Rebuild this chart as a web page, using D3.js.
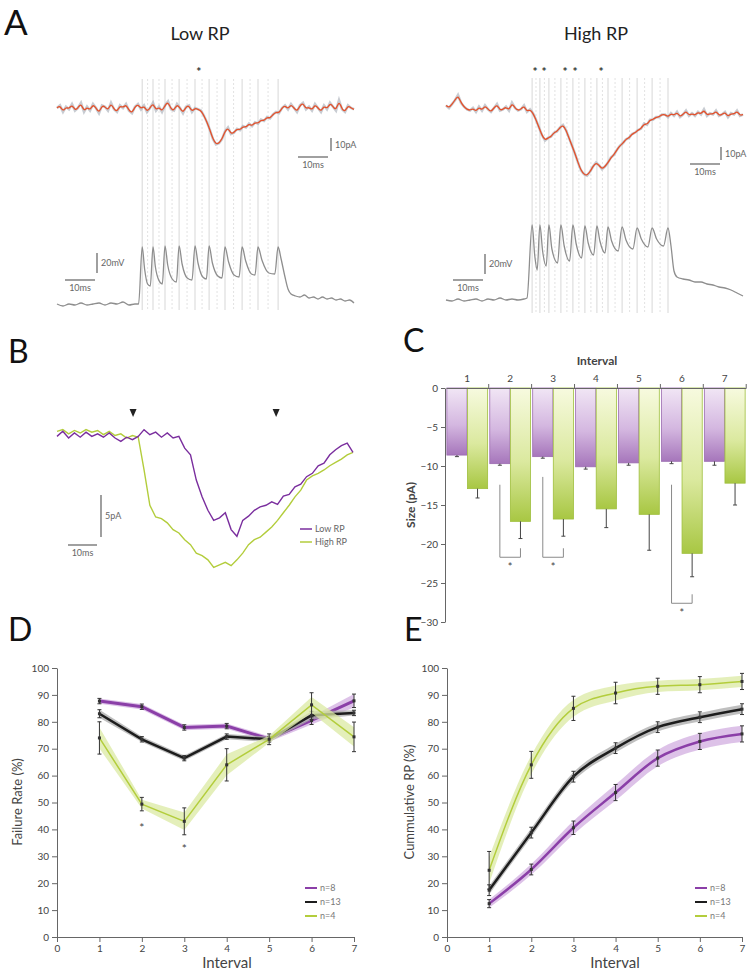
<!DOCTYPE html>
<html>
<head>
<meta charset="utf-8">
<script src="https://cdn.jsdelivr.net/npm/d3@7"></script>
<style>
  body { margin: 0; background: #fff; }
  svg { display: block; font-family: Lato, 'Open Sans', sans-serif; }
</style>
</head>
<body>
<svg id="fig" width="747" height="973"></svg>
<script>
// ---------- data ----------
// A: membrane current (pA), one sample per ms
var lowCurrent = [0,2,-3,1,-1,3,-2,0,4,-3, 1,-2,3,0,-4,2,1,-2,4,-1, -3,2,0,3,-2,-4,1,3,-1,2,
  -3,0,4,-2,1,-3,2,5,-1,-2, 3,0,-4,1,2,-3,0,-1,
  -2,-6,-11,-17,-24,-28,-27,-24,-18,-15,-20,-19,-16,-17,-14,-15,-12,-14,-11,-12,-9,-10,-7,-8,-5,-3,-4,0,
  2,-1,3,0,-3,2,4,-1,1,-2, 3,0,-3,2,-1,4,1,-2,6,-1, -3,2,0,-1]
var highCurrent = [2,0,3,6,10,4,1,-1,-2,0, -3,1,-2,2,-1,-3,0,3,-2,-1, 1,-2,4,0,-2,-1,2,-3,-1,
  -4,-9,-15,-21,-25,-23,-22,-19,-18,-15, -13,-17,-23,-29,-35,-42,-48,-51,-52,-49,
  -45,-42,-44,-47,-45,-42,-38,-36,-32,-29, -27,-24,-23,-20,-19,-17,-16,-12,-13,-9, -9,-7,-7,-5,
  -5,-7,-4,-6,-3,-7,-5,-2,-6,-4, -6,-3,-5,-1,-6,-4,-5,-2,-6,-5, -3,-7,-4,-5,-2,-6,-5]
// A: membrane potential, [ms, mV above rest]
var lowVm = [[0,1],[2,-1],[4,1],[6,0],[8,2],[10,0],[12,1],[14,2],[16,0],[18,2],[20,1],[22,3],[24,0],[26,1],[27.2,1],
  [28.4,58],[29.2,36],[30.2,21],[31.1,19],
  [32,58],[32.8,38],[33.9,25],[35.1,21],
  [36,59],[36.9,40],[38.4,26],[39.8,23],
  [40.7,59],[41.7,41],[43.4,27],[45,25],
  [46,59],[47,42],[48.6,28],[49.8,26],
  [50.7,59],[51.8,42],[53.6,29],[55,27],
  [56,58],[57.2,43],[59,30],[60.7,28],
  [61.7,58],[62.9,44],[64.8,31],[66,30],
  [67,58],[68.3,45],[70.6,32],[72.6,31],
  [73.7,58],[74.7,46],[76,28],[77,16],[78,11],[79.5,9],[81,8],[82.5,10],[84,7],[85.5,8],[87,6],
  [88.5,8],[90,6],[91.5,7],[93,5],[94.5,6],[96,4],[97.5,5],[99,2]]
var highVm = [[0,1],[2,0],[4,2],[6,0],[8,1],[10,2],[12,0],[14,2],[16,1],[18,3],[20,1],[22,2],[24,1],[26,2],[27,3],
  [28.7,76],[29.6,45],[30.4,31],
  [31.3,76],[32.2,50],[33.4,35],
  [34.3,76],[35.3,52],[37.2,38],
  [38.3,76],[39.4,55],[41.2,40],
  [42.3,76],[43.4,57],[45.2,43],
  [46.3,75],[47.4,58],[49.2,46],
  [50.3,75],[51.3,60],[53,48],
  [54,74],[55.2,60],[57.4,50],
  [58.7,74],[60,61],[62.3,52],
  [63.7,73],[65.1,62],[67.3,54],
  [68.7,73],[70.2,62],[72.5,55],
  [74,73],[75,55],[76,30],[77,24],[79,22],[81,21],[83,19],[85,19],[87,17],[89,16],[91,14],[93,13],[95,11],[97,8],[99,5]]
var lowSpikes = [28.4, 32, 36, 40.7, 46, 50.7, 56, 61.7, 67, 73.7]
var highSpikes = [28.7, 31.3, 34.3, 38.3, 42.3, 46.3, 50.3, 54, 58.7, 63.7, 68.7, 74]
var lowStars = [47.3]
var highStars = [29.7, 32.7, 39.7, 43, 51.7]

// B: averaged currents (pA), one sample every 2 ms
var avgLow = [-0.4,0.2,-0.6,0,-0.5,0.1,-0.4,-0.1,-0.5,0,-0.6,-1.0,-0.5,-0.8,-0.4,0.4,-0.2,0.1,-0.5,0,
  -0.6,-0.4,-1.8,-2.6,-5.6,-7.6,-9.2,-10.4,-10.1,-9.5,-11.5,-12.3,-10.4,-9.9,-9.2,-8.8,-8.6,-8.2,-8.5,-7.5,
  -7.3,-6.4,-6.1,-5.2,-4.8,-3.9,-3.6,-2.6,-2.0,-1.5,-1.2,-2.3]
var avgHigh = [0.2,0.4,-0.1,0.3,0,0.4,0.1,0.3,-0.2,0.2,-0.3,-0.1,-0.6,-0.3,-0.5,-4.4,-8.6,-10,-10.2,-10.7,
  -11.5,-11.9,-12.7,-13.3,-14.3,-14.6,-15.1,-16.0,-15.7,-15.4,-15.8,-15.1,-14.3,-13.3,-12.7,-12.4,-11.8,-11.2,-10.4,-9.5,
  -8.6,-7.6,-6.8,-5.6,-5.1,-4.8,-4.4,-3.9,-3.5,-3.1,-2.6,-2.3]
var avgStep = 2
var arrowTimes = [26.2, 75.5]

// C: EPSC size per interval (pA)
var intervals = [1, 2, 3, 4, 5, 6, 7]
var sizeLow = [-8.6, -9.7, -8.8, -10.1, -9.6, -9.4, -9.4]
var sizeLowErr = [0.2, 0.2, 0.2, 0.3, 0.3, 0.3, 0.5]
var sizeHigh = [-12.9, -17.1, -16.8, -15.5, -16.2, -21.2, -12.2]
var sizeHighErr = [1.2, 2.2, 2.2, 2.4, 4.6, 3.0, 2.8]
var sizeTicks = [0, -5, -10, -15, -20, -25, -30]
var sigGroups = [2, 3, 6]
var sigTop = [-12.4, -11.4, -12.4]
var sigBottom = [-21.7, -21.7, -27.6]

// D: failure rate (%)
var frLow = [87.7, 85.6, 77.9, 78.4, 73.6, 80.5, 87.8]
var frLowErr = [1, 1, 1, 1, 1, 1.5, 2.5]
var frAll = [83, 73.5, 66.5, 74.5, 73.5, 82.4, 83.3]
var frAllErr = [1.5, 1, 1, 1, 1, 1.5, 1]
var frHigh = [74, 49.4, 43, 64, 73.5, 86.3, 74.4]
var frHighErr = [6, 2.5, 5, 6, 2, 4.5, 5.5]
var frStarX = [2, 3]
var frStarY = [41, 33]

// E: cumulative RP (%)
var cumLow = [12.4, 25.1, 40.6, 53.7, 66.5, 72.7, 75.5]
var cumLowErr = [1.5, 2, 2.5, 3, 3, 3, 3]
var cumAll = [17.4, 38.8, 59.6, 70.2, 78, 81.7, 84.7]
var cumAllErr = [2, 2, 2, 2, 2, 2, 2]
var cumHigh = [24.8, 64, 85, 90.7, 93.2, 93.8, 95]
var cumHighErr = [7, 5, 4.5, 4, 3, 3, 3]

var pctTicks = [0, 10, 20, 30, 40, 50, 60, 70, 80, 90, 100]
var intervalTicks = [0, 1, 2, 3, 4, 5, 6, 7]
var legendLabels = ['n=8', 'n=13', 'n=4']

// ---------- styles ----------
var purple = '#8b3fa8', black = '#1d1d1d', green = '#b3cd3c'
var purpleBand = '#d2aee0', blackBand = '#a9a9a9', greenBand = '#dbe9a3'
var grayText = '#666'

var svg = d3.select('#fig')

// panel letters
;[['A', 4, 35, 35], ['B', 8, 363, 32], ['C', 403, 352, 32], ['D', 8, 641, 32], ['E', 404, 641, 32]]
  .forEach(function(l){
    svg.append('text').attr('x', l[1]).attr('y', l[2]).text(l[0])
      .attr('font-size', l[3] + 'px').attr('fill', '#111')
  })

function scaleBarV(x, y, len, label) {
  svg.append('line').attr('x1', x).attr('x2', x).attr('y1', y).attr('y2', y + len)
    .attr('stroke', '#777').attr('stroke-width', 1.4)
  svg.append('text').attr('x', x + 4).attr('y', y + len / 2 + 3).text(label)
    .attr('font-size', '9px').attr('fill', grayText)
}
function scaleBarH(x, y, len, label) {
  svg.append('line').attr('x1', x).attr('x2', x + len).attr('y1', y).attr('y2', y)
    .attr('stroke', '#777').attr('stroke-width', 1.4)
  svg.append('text').attr('x', x + len / 2).attr('y', y + 11).text(label)
    .attr('text-anchor', 'middle').attr('font-size', '9px').attr('fill', grayText)
}

// ---------- panel A ----------
function drawTraces(o) {
  var g = svg.append('g')
  g.append('text').attr('x', o.titleX).attr('y', 40).text(o.title)
    .attr('text-anchor', 'middle').attr('font-size', '18px').attr('fill', '#222')

  o.spikes.forEach(function(t, i){
    g.append('line').attr('x1', o.x(t)).attr('x2', o.x(t)).attr('y1', o.lineTop).attr('y2', o.lineBottom)
      .attr('stroke', '#cdcdcd').attr('stroke-width', 0.8)
    if (i < o.spikes.length - 1) {
      var m = (t + o.spikes[i + 1]) / 2
      g.append('line').attr('x1', o.x(m)).attr('x2', o.x(m)).attr('y1', o.lineTop).attr('y2', o.lineBottom)
        .attr('stroke', '#d6d6d6').attr('stroke-width', 0.7).attr('stroke-dasharray', '2,2')
    }
  })

  var raw = d3.line().x(function(d, i){ return o.x(i) }).y(function(d){ return o.yI(d) })
  var smooth = d3.line().curve(d3.curveBasis).x(function(d, i){ return o.x(i) }).y(function(d){ return o.yI(d) })
  g.append('path').attr('d', raw(o.current)).attr('fill', 'none')
    .attr('stroke', '#9aa2ad').attr('stroke-width', 2.6).attr('stroke-opacity', 0.55)
  g.append('path').attr('d', smooth(o.current)).attr('fill', 'none')
    .attr('stroke', '#e4502a').attr('stroke-width', 1.3)

  var vm = d3.line().curve(d3.curveMonotoneX).x(function(d){ return o.x(d[0]) }).y(function(d){ return o.yV(d[1]) })
  g.append('path').attr('d', vm(o.vm)).attr('fill', 'none')
    .attr('stroke', '#8e8e8e').attr('stroke-width', 1.3)

  o.stars.forEach(function(t){
    g.append('text').attr('x', o.x(t)).attr('y', 76).text('*')
      .attr('text-anchor', 'middle').attr('font-size', '12px').attr('font-weight', 'bold').attr('fill', '#333')
  })
}

var xAL = d3.scaleLinear().domain([0, 100]).range([57, 357])
var xAR = d3.scaleLinear().domain([0, 100]).range([446, 746])
var yIL = d3.scaleLinear().domain([0, -10]).range([108, 121])
var yIR = d3.scaleLinear().domain([0, -10]).range([108, 121])
var yVL = d3.scaleLinear().domain([0, 20]).range([305, 285])
var yVR = d3.scaleLinear().domain([0, 20]).range([301, 281])

drawTraces({ title: 'Low RP', titleX: 200, x: xAL, yI: yIL, yV: yVL, current: lowCurrent, vm: lowVm,
  spikes: lowSpikes, stars: lowStars, lineTop: 79, lineBottom: 310 })
drawTraces({ title: 'High RP', titleX: 596, x: xAR, yI: yIR, yV: yVR, current: highCurrent, vm: highVm,
  spikes: highSpikes, stars: highStars, lineTop: 78, lineBottom: 313 })

scaleBarV(331, 138, yIL(-10) - yIL(0), '10pA')
scaleBarH(298, 157, xAL(10) - xAL(0), '10ms')
scaleBarV(721, 147, yIR(-10) - yIR(0), '10pA')
scaleBarH(690, 164, xAR(10) - xAR(0), '10ms')
scaleBarV(97, 253, yVL(0) - yVL(20), '20mV')
scaleBarH(65, 280, xAL(10) - xAL(0), '10ms')
scaleBarV(485, 254, yVR(0) - yVR(20), '20mV')
scaleBarH(453, 280, xAR(10) - xAR(0), '10ms')

// ---------- panel B ----------
var xB = d3.scaleLinear().domain([0, 102]).range([57, 353])
var yB = d3.scaleLinear().domain([0, -5]).range([433, 475])
var lineB = d3.line().x(function(d, i){ return xB(i * avgStep) }).y(function(d){ return yB(d) })
svg.append('path').attr('d', lineB(avgHigh)).attr('fill', 'none').attr('stroke', green).attr('stroke-width', 1.4)
svg.append('path').attr('d', lineB(avgLow)).attr('fill', 'none').attr('stroke', '#7a2e9e').attr('stroke-width', 1.4)
arrowTimes.forEach(function(t){
  var x = xB(t)
  svg.append('path').attr('d', 'M' + (x - 3.5) + ',409L' + (x + 3.5) + ',409L' + x + ',417Z').attr('fill', '#222')
})
scaleBarV(101, 495, yB(-5) - yB(0), '5pA')
scaleBarH(68, 545, xB(10) - xB(0), '10ms')
;[['Low RP', '#7a2e9e'], ['High RP', green]].forEach(function(d, i){
  var y = 529 + i * 13
  svg.append('line').attr('x1', 300).attr('x2', 312).attr('y1', y).attr('y2', y).attr('stroke', d[1]).attr('stroke-width', 1.5)
  svg.append('text').attr('x', 315).attr('y', y + 3).text(d[0]).attr('font-size', '9px').attr('fill', grayText)
})

// ---------- panel C ----------
var defs = svg.append('defs')
function grad(id, stops) {
  var lg = defs.append('linearGradient').attr('id', id).attr('x1', 0).attr('y1', 0).attr('x2', 0).attr('y2', 1)
  stops.forEach(function(s){ lg.append('stop').attr('offset', s[0]).attr('stop-color', s[1]) })
}
grad('gPurple', [[0, '#f1e6f5'], [0.55, '#d4b7e0'], [1, '#a676bb']])
grad('gGreen', [[0, '#f7fadf'], [0.55, '#dbe99f'], [1, '#a8c743']])

var xC = d3.scaleBand().domain(intervals).range([446, 746]).paddingInner(0.05).paddingOuter(0.02)
var xSub = d3.scaleBand().domain(['low', 'high']).range([0, xC.bandwidth()]).paddingInner(0.02)
var yC = d3.scaleLinear().domain([0, -30]).range([388, 622])
var gC = svg.append('g')

intervals.forEach(function(k, i){
  var x0 = xC(k)
  ;[['low', sizeLow[i], sizeLowErr[i], 'url(#gPurple)', '#9c6cb1'],
    ['high', sizeHigh[i], sizeHighErr[i], 'url(#gGreen)', '#9fbf3d']].forEach(function(b){
    var x = x0 + xSub(b[0]), w = xSub.bandwidth()
    gC.append('rect').attr('x', x).attr('y', yC(0)).attr('width', w).attr('height', yC(b[1]) - yC(0))
      .attr('fill', b[3]).attr('stroke', b[4]).attr('stroke-width', 0.8)
    var cx = x + w / 2
    gC.append('line').attr('x1', cx).attr('x2', cx).attr('y1', yC(b[1])).attr('y2', yC(b[1] - b[2]))
      .attr('stroke', '#444').attr('stroke-width', 1)
    gC.append('line').attr('x1', cx - 2).attr('x2', cx + 2).attr('y1', yC(b[1] - b[2])).attr('y2', yC(b[1] - b[2]))
      .attr('stroke', '#444').attr('stroke-width', 1)
  })
})

gC.append('g').attr('transform', 'translate(445,0)')
  .call(d3.axisLeft(yC).tickValues(sizeTicks).tickSize(4).tickSizeOuter(0))
gC.append('g').attr('transform', 'translate(0,388)')
  .call(d3.axisTop(xC).tickSize(0).tickPadding(6).tickSizeOuter(0))
intervals.forEach(function(k){
  var xb = xC(k) + xC.bandwidth() + xC.step() * xC.paddingInner() / 2
  gC.append('line').attr('x1', xb).attr('x2', xb).attr('y1', 388).attr('y2', 384).attr('stroke', '#666')
})
gC.append('text').attr('x', 597).attr('y', 365).text('Interval').attr('text-anchor', 'middle')
  .attr('font-size', '12px').attr('font-weight', 'bold').attr('fill', '#444')
gC.append('text').attr('transform', 'translate(415,505) rotate(-90)').text('Size (pA)')
  .attr('text-anchor', 'middle').attr('font-size', '12px').attr('font-weight', 'bold').attr('fill', '#444')

sigGroups.forEach(function(k, i){
  var xl = xC(k) + xSub('low') + xSub.bandwidth() / 2
  var xr = xC(k) + xSub('high') + xSub.bandwidth() / 2
  var yb = yC(sigBottom[i])
  gC.append('path').attr('d', 'M' + xl + ',' + yC(sigTop[i]) + 'V' + yb + 'H' + xr + 'V' + (yb - 9))
    .attr('fill', 'none').attr('stroke', '#8a8a8a').attr('stroke-width', 1)
  gC.append('text').attr('x', (xl + xr) / 2).attr('y', yb + 14).text('*').attr('text-anchor', 'middle')
    .attr('font-size', '11px').attr('fill', '#444')
})

// ---------- panels D, E ----------
function drawLinePanel(o) {
  var g = svg.append('g')
  g.append('g').attr('transform', 'translate(' + o.x.range()[0] + ',0)')
    .call(d3.axisLeft(o.y).tickValues(pctTicks).tickSize(5).tickSizeOuter(0))
  g.append('g').attr('transform', 'translate(0,' + o.y.range()[0] + ')')
    .call(d3.axisBottom(o.x).tickValues(intervalTicks).tickFormat(d3.format('d')).tickSize(5).tickSizeOuter(0))

  o.series.forEach(function(s){
    var pts = intervals.map(function(k, i){ return { k: k, v: s.values[i], e: s.err[i] } })
    var area = d3.area().curve(o.curve)
      .x(function(d){ return o.x(d.k) })
      .y0(function(d){ return o.y(d.v - d.e * s.band) })
      .y1(function(d){ return o.y(d.v + d.e * s.band) })
    g.append('path').attr('d', area(pts)).attr('fill', s.bandColor).attr('fill-opacity', 0.75)
    var ln = d3.line().curve(o.curve).x(function(d){ return o.x(d.k) }).y(function(d){ return o.y(d.v) })
    g.append('path').attr('d', ln(pts)).attr('fill', 'none').attr('stroke', s.color).attr('stroke-width', s.width)
    pts.forEach(function(d){
      var x = o.x(d.k)
      g.append('line').attr('x1', x).attr('x2', x).attr('y1', o.y(d.v - d.e)).attr('y2', o.y(d.v + d.e))
        .attr('stroke', '#333').attr('stroke-width', 1)
      ;[d.v - d.e, d.v + d.e].forEach(function(v){
        g.append('line').attr('x1', x - 2).attr('x2', x + 2).attr('y1', o.y(v)).attr('y2', o.y(v))
          .attr('stroke', '#333').attr('stroke-width', 1)
      })
      g.append('rect').attr('x', x - 1.5).attr('y', o.y(d.v) - 1.5).attr('width', 3).attr('height', 3).attr('fill', '#333')
    })
  })

  g.append('text').attr('x', o.xTitleX).attr('y', 968).text('Interval').attr('text-anchor', 'middle')
    .attr('font-size', '15px').attr('fill', '#444')
  g.append('text').attr('transform', 'translate(' + o.yTitleX + ',802) rotate(-90)').text(o.yTitle)
    .attr('text-anchor', 'middle').attr('font-size', '13px').attr('fill', '#444')

  o.series.forEach(function(s, i){
    var y = 888 + i * 14
    g.append('line').attr('x1', o.legendX).attr('x2', o.legendX + 12).attr('y1', y).attr('y2', y)
      .attr('stroke', s.color).attr('stroke-width', 2)
    g.append('text').attr('x', o.legendX + 15).attr('y', y + 3).text(legendLabels[i])
      .attr('font-size', '9px').attr('fill', '#777')
  })
  return g
}

var yD = d3.scaleLinear().domain([0, 100]).range([937, 668])
var xD = d3.scaleLinear().domain([0, 7]).range([57, 354])
var gD = drawLinePanel({
  x: xD, y: yD, curve: d3.curveLinear, xTitleX: 227, yTitleX: 22, yTitle: 'Failure Rate (%)', legendX: 305,
  series: [
    { values: frLow, err: frLowErr, color: purple, width: 3, band: 1, bandColor: purpleBand },
    { values: frAll, err: frAllErr, color: black, width: 2.5, band: 1, bandColor: blackBand },
    { values: frHigh, err: frHighErr, color: green, width: 1.5, band: 0.65, bandColor: greenBand }
  ]
})
frStarX.forEach(function(k, i){
  gD.append('text').attr('x', xD(k)).attr('y', yD(frStarY[i]) + 5).text('*').attr('text-anchor', 'middle')
    .attr('font-size', '12px').attr('fill', '#444')
})

var xE = d3.scaleLinear().domain([0, 7]).range([447, 742])
drawLinePanel({
  x: xE, y: yD, curve: d3.curveMonotoneX, xTitleX: 615, yTitleX: 414, yTitle: 'Cummulative RP (%)', legendX: 695,
  series: [
    { values: cumLow, err: cumLowErr, color: purple, width: 2.5, band: 1, bandColor: purpleBand },
    { values: cumAll, err: cumAllErr, color: black, width: 2.5, band: 0.8, bandColor: blackBand },
    { values: cumHigh, err: cumHighErr, color: green, width: 1.5, band: 0.7, bandColor: greenBand }
  ]
})

// axis styling
svg.selectAll('.domain').attr('stroke', '#666')
svg.selectAll('.tick line').attr('stroke', '#666')
svg.selectAll('.tick text').attr('fill', '#444').attr('font-size', '10px').attr('font-family', 'Lato, sans-serif')
</script>
</body>
</html>
